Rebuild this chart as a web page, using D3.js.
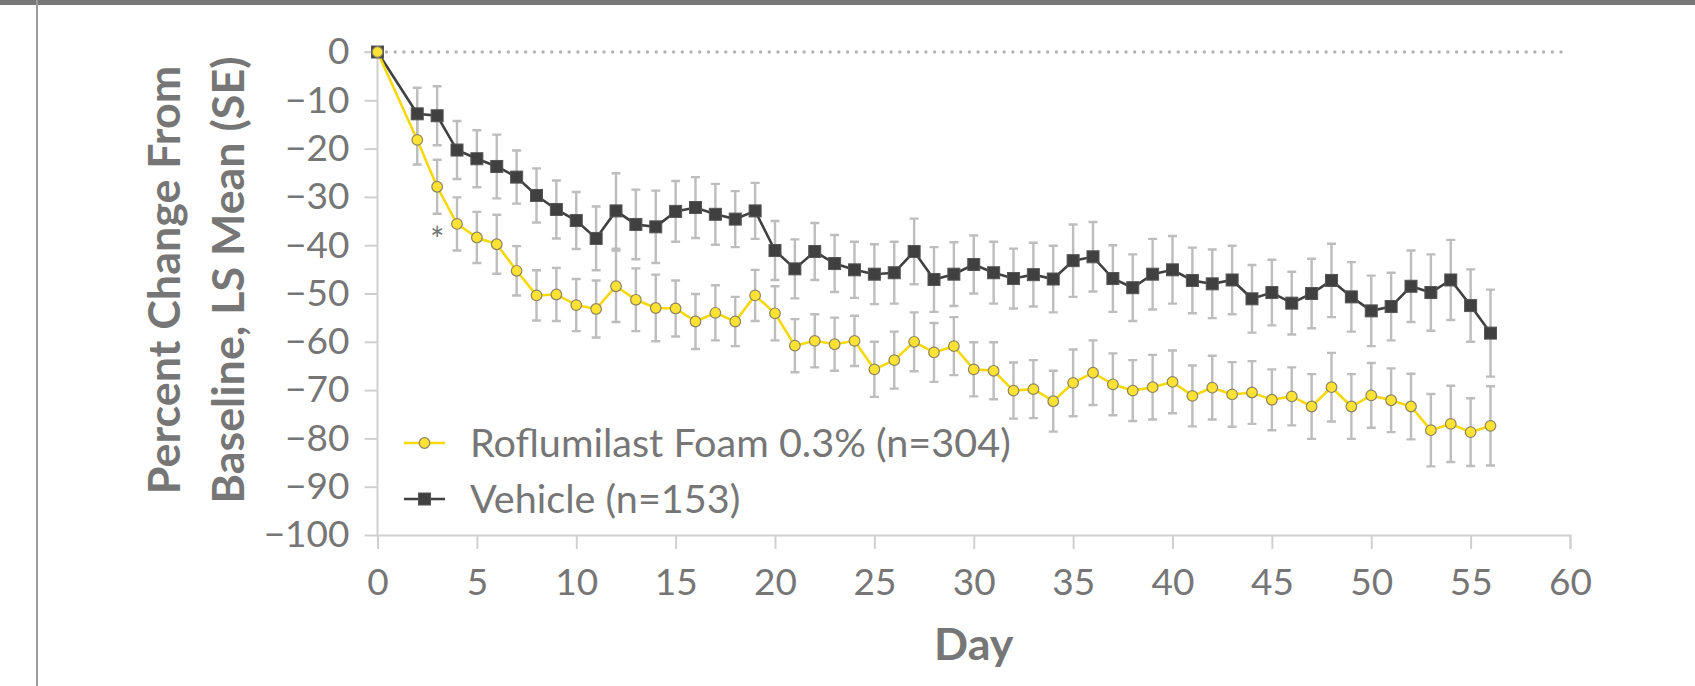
<!DOCTYPE html>
<html>
<head>
<meta charset="utf-8">
<script src="https://cdn.jsdelivr.net/npm/d3@7"></script>
<style>
  html, body { margin: 0; padding: 0; background: #fff; }
  svg { display: block; }
  text { font-family: Lato, "Open Sans", sans-serif; }
</style>
</head>
<body>
<svg id="chart" width="1695" height="686"></svg>
<script>
// ---- Data ----
const days = [0,2,3,4,5,6,7,8,9,10,11,12,13,14,15,16,17,18,19,20,21,22,23,24,25,26,27,28,29,30,
  31,32,33,34,35,36,37,38,39,40,41,42,43,44,45,46,47,48,49,50,51,52,53,54,55,56];

const roflumilast = [0,-18.2,-27.9,-35.6,-38.4,-39.8,-45.3,-50.4,-50.2,-52.4,-53.2,-48.5,-51.3,-53.0,-53.1,
  -55.8,-54.0,-55.8,-50.4,-54.1,-60.8,-59.8,-60.5,-59.8,-65.7,-63.8,-60.0,-62.2,-60.9,-65.7,
  -66.0,-70.1,-69.8,-72.3,-68.5,-66.4,-68.8,-70.1,-69.4,-68.3,-71.2,-69.5,-70.9,-70.5,-72.0,
  -71.3,-73.4,-69.4,-73.4,-71.1,-72.1,-73.4,-78.3,-77.0,-78.7,-77.4];
const roflumilastSE = [0,5.1,5.6,5.5,5.3,6.1,5.1,5.2,5.5,5.4,5.9,7.4,6.5,6.9,5.8,
  5.7,5.7,5.1,5.3,5.6,5.5,5.5,5.5,5.2,5.7,5.9,6.1,6.1,6.0,5.6,
  5.9,5.8,6.0,6.3,6.9,6.7,6.4,6.3,6.7,6.5,6.3,6.6,6.7,6.5,6.3,
  6.0,6.7,7.1,6.7,6.7,6.6,6.8,7.5,7.9,7.0,8.2];

const vehicle = [0,-12.8,-13.2,-20.3,-22.1,-23.7,-25.9,-29.7,-32.6,-34.9,-38.6,-32.9,-35.7,-36.2,-33.0,
  -32.2,-33.6,-34.6,-32.9,-41.1,-44.9,-41.3,-43.8,-45.1,-46.0,-45.7,-41.3,-47.1,-46.0,-44.0,
  -45.7,-46.9,-46.1,-47.0,-43.2,-42.4,-46.9,-48.8,-46.0,-45.1,-47.3,-48.0,-47.2,-51.1,-49.8,
  -52.0,-50.0,-47.3,-50.7,-53.6,-52.7,-48.5,-49.8,-47.2,-52.5,-58.2];
const vehicleSE = [0,5.4,6.1,6.0,5.9,6.6,5.5,5.6,6.0,5.9,6.6,7.8,7.2,7.5,6.3,
  6.3,6.3,5.8,5.8,6.1,6.1,5.9,5.9,5.8,6.2,6.4,6.8,6.7,6.6,6.0,
  6.4,6.2,6.6,6.9,7.5,7.2,6.9,6.9,7.3,7.0,6.8,7.1,7.1,7.0,6.8,
  6.5,7.2,7.6,7.2,7.3,7.0,7.4,7.9,8.3,7.5,9.0];

const xTicks = [0,5,10,15,20,25,30,35,40,45,50,55,60];
const yTicks = [0,-10,-20,-30,-40,-50,-60,-70,-80,-90,-100];
const seriesNames = ["Roflumilast Foam 0.3% (n=304)", "Vehicle (n=153)"];
const yTitle = ["Percent Change From", "Baseline, LS Mean (SE)"];
const xTitle = "Day";

// ---- Drawing ----
const svg = d3.select("#chart");
const TEXT = "#767676";
const YEL_LINE = "#F6D80C", YEL_FILL = "#FFE234", YEL_STROKE = "#8c8560";
const VEH = "#404040";
const ERR = "#bdbdbd";

// frame
svg.append("rect").attr("x", 0).attr("y", 0).attr("width", 1695).attr("height", 5).attr("fill", "#787878");
svg.append("rect").attr("x", 36).attr("y", 0).attr("width", 2).attr("height", 686).attr("fill", "#9a9a9a");

const x = d3.scaleLinear().domain([0, 60]).range([377.5, 1570]);
const y = d3.scaleLinear().domain([-100, 0]).range([535, 52]);

// axes
const gy = svg.append("g").attr("transform", `translate(${x(0)},0)`)
  .call(d3.axisLeft(y).tickValues(yTicks).tickSize(13).tickPadding(15).tickFormat(d3.format("d")));
const gx = svg.append("g").attr("transform", `translate(0,${y(-100)})`)
  .call(d3.axisBottom(x).tickValues(xTicks).tickSize(14).tickPadding(20).tickFormat(d3.format("d")));
[gx, gy].forEach(g => {
  g.select(".domain").attr("stroke", "#d0d0d0").attr("stroke-width", 2);
  g.selectAll(".tick line").attr("stroke", "#d0d0d0").attr("stroke-width", 2);
  g.selectAll(".tick text").attr("fill", TEXT).style("font-size", "37px").style("font-family", "Lato");
});
gy.select(".domain").attr("d", `M-13,${y(0)}H0V${y(-100)}`);

// zero dotted reference line
svg.append("line")
  .attr("x1", x(0) + 9).attr("x2", x(59.65)).attr("y1", y(0)).attr("y2", y(0))
  .attr("stroke", "#b3b3b3").attr("stroke-width", 3.4)
  .attr("stroke-linecap", "round").attr("stroke-dasharray", "0,8.7");

const rof = days.map((d, i) => ({ d, v: roflumilast[i], se: roflumilastSE[i] }));
const veh = days.map((d, i) => ({ d, v: vehicle[i], se: vehicleSE[i] }));

// error bars
function errBars(data) {
  const g = svg.append("g").attr("stroke", ERR).attr("stroke-width", 2.4).attr("fill", "none");
  data.filter(p => p.se > 0).forEach(p => {
    const cx = x(p.d), t = y(p.v + p.se), b = y(p.v - p.se);
    g.append("path").attr("d", `M${cx},${t}V${b}M${cx - 4.5},${t}H${cx + 4.5}M${cx - 4.5},${b}H${cx + 4.5}`);
  });
}
errBars(veh);
errBars(rof);

const line = d3.line().x(p => x(p.d)).y(p => y(p.v));
svg.append("path").datum(veh).attr("d", line).attr("fill", "none").attr("stroke", VEH).attr("stroke-width", 2.6);
svg.append("path").datum(rof).attr("d", line).attr("fill", "none").attr("stroke", YEL_LINE).attr("stroke-width", 2.6);

const SQ = 12;
svg.append("g").selectAll("rect").data(veh).join("rect")
  .attr("x", p => x(p.d) - SQ / 2).attr("y", p => y(p.v) - SQ / 2)
  .attr("width", SQ).attr("height", SQ).attr("fill", VEH).attr("stroke", "#555").attr("stroke-width", 1);
svg.append("g").selectAll("circle").data(rof).join("circle")
  .attr("cx", p => x(p.d)).attr("cy", p => y(p.v)).attr("r", 5.3)
  .attr("fill", YEL_FILL).attr("stroke", YEL_STROKE).attr("stroke-width", 1.2);

// significance asterisk
svg.append("text").attr("x", x(3)).attr("y", 252).attr("text-anchor", "middle")
  .attr("fill", TEXT).style("font-size", "34px").text("*");

// fit helper
function fit(sel, target) {
  const w = sel.node().getComputedTextLength();
  const fs = parseFloat(sel.style("font-size"));
  sel.style("font-size", (fs * target / w) + "px");
}

// legend
const lg = svg.append("g");
lg.append("line").attr("x1", 404).attr("x2", 445).attr("y1", 443).attr("y2", 443)
  .attr("stroke", YEL_LINE).attr("stroke-width", 2.6);
lg.append("circle").attr("cx", 424.5).attr("cy", 443).attr("r", 5.3)
  .attr("fill", YEL_FILL).attr("stroke", YEL_STROKE).attr("stroke-width", 1.2);
lg.append("line").attr("x1", 404).attr("x2", 445).attr("y1", 499).attr("y2", 499)
  .attr("stroke", VEH).attr("stroke-width", 2.6);
lg.append("rect").attr("x", 424.5 - SQ / 2).attr("y", 499 - SQ / 2).attr("width", SQ).attr("height", SQ)
  .attr("fill", VEH).attr("stroke", "#555").attr("stroke-width", 1);
const lt1 = lg.append("text").attr("x", 470).attr("y", 443).attr("dy", "0.35em")
  .attr("fill", TEXT).style("font-size", "36px").text(seriesNames[0]);
const lt2 = lg.append("text").attr("x", 470).attr("y", 499).attr("dy", "0.35em")
  .attr("fill", TEXT).style("font-size", "36px").text(seriesNames[1]);
fit(lt1, 541);
lt2.style("font-size", lt1.style("font-size"));

// axis titles
const yt1 = svg.append("text").attr("transform", "translate(180,280) rotate(-90)")
  .attr("text-anchor", "middle").attr("fill", TEXT).style("font-weight", "bold").style("font-size", "38px")
  .text(yTitle[0]);
const yt2 = svg.append("text").attr("transform", "translate(244,280) rotate(-90)")
  .attr("text-anchor", "middle").attr("fill", TEXT).style("font-weight", "bold").style("font-size", "38px")
  .text(yTitle[1]);
fit(yt2, 447);
yt1.style("font-size", yt2.style("font-size"));

svg.append("text").attr("x", (x(0) + x(60)) / 2).attr("y", 660).attr("text-anchor", "middle")
  .attr("fill", TEXT).style("font-weight", "bold").style("font-size", yt2.style("font-size")).text(xTitle);
</script>
</body>
</html>
